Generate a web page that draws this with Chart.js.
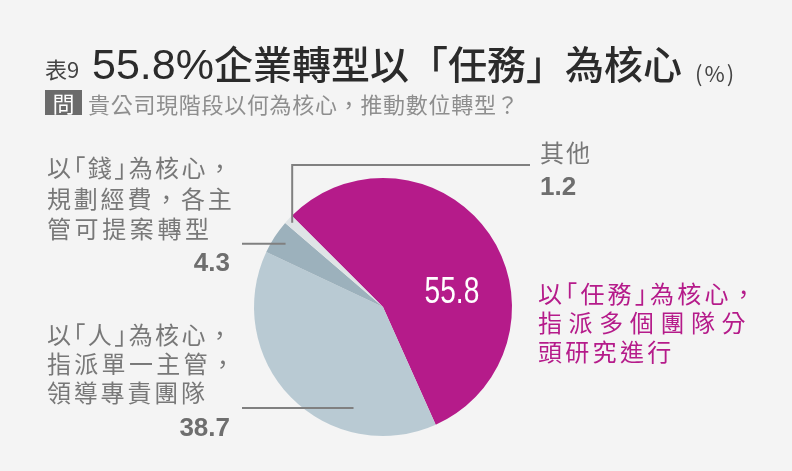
<!DOCTYPE html>
<html>
<head>
<meta charset="utf-8">
<script src="https://cdn.jsdelivr.net/npm/chart.js@4.4.0/dist/chart.umd.min.js"></script>
<style>
  html, body { margin: 0; padding: 0; }
  body { width: 792px; height: 471px; background: #f4f4f4; position: relative; overflow: hidden;
         font-family: "Noto Sans CJK TC", "Noto Sans CJK SC", sans-serif; }
  #pie { position: absolute; left: 0; top: 0; }
  .abs { position: absolute; white-space: nowrap; }
  .br { font-feature-settings: "halt"; }
  .tag { background: #6b6b6b; color: #fff; text-align: center; }
  .lbl { color: #787878; font-size: 24px; }
  .num { font-family: "Liberation Sans", Arial, sans-serif; font-weight: bold; color: #6e6e6e; font-size: 26px; line-height: 26px; }
  .dig { font-family: "Liberation Sans", Arial, sans-serif; font-size: 43px; }
</style>
</head>
<body>
<canvas id="pie" width="792" height="471"></canvas>
<div id="texts"></div>
<script>
// data
const categories = ['以「任務」為核心，指派多個團隊分頭研究進行', '以「人」為核心，指派單一主管，領導專責團隊', '以「錢」為核心，規劃經費，各主管可提案轉型', '其他'];
const categoryLines = [
  ['以「任務」為核心，', '指派多個團隊分', '頭研究進行'],
  ['以「人」為核心，', '指派單一主管，', '領導專責團隊'],
  ['以「錢」為核心，', '規劃經費，各主', '管可提案轉型'],
  ['其他']
];
const shares = [55.8, 38.7, 4.3, 1.2];
const colors = ['#b51b8a', '#b9cad3', '#9cb1bc', '#dfe4e6'];

const titleNo = '表9';
const titleLead = '55.8%';
const titleText = '企業轉型以「任務」為核心';
const titleUnit = '(%)';
const questionTag = '問';
const questionText = '貴公司現階段以何為核心，推動數位轉型？';

// layout for the labels around the pie
const labelBoxes = [
  { left: 538, top: 278, lh: 29, color: '#b51b8a', spacing: [3.2, 6.6, 3.3], value: null },
  { left: 47, top: 319, lh: 29, color: '#787878', spacing: [2.4, 3.3, 2.8], value: { right: 230, mid: 427 } },
  { left: 47, top: 152, lh: 30.5, color: '#787878', spacing: [2.4, 2.8, 3.6], value: { right: 230, mid: 262 } },
  { left: 540, top: 139, lh: 26, color: '#787878', spacing: [2], value: { left: 540, mid: 186 } }
];

const texts = document.getElementById('texts');
function addDiv(html, css, cls) {
  const d = document.createElement('div');
  d.className = 'abs ' + (cls || '');
  d.innerHTML = html;
  Object.assign(d.style, css);
  texts.appendChild(d);
  return d;
}
function brackets(s) {
  return s.replace(/([「」])/g, '<span class="br">$1</span>');
}

// title
addDiv(titleNo, { left: '45px', top: '57px', fontSize: '22px', lineHeight: '22px', color: '#444' });
addDiv('<span class="dig">' + titleLead + '</span>' + titleText,
  { left: '92px', top: '42px', fontSize: '39px', lineHeight: '41px', color: '#2b2b2b', fontWeight: 500 });
addDiv(titleUnit, { left: '695px', top: '61px', fontSize: '22px', lineHeight: '22px', color: '#444', letterSpacing: '2px' });
addDiv(questionTag, { left: '45px', top: '90px', width: '37px', height: '25px', fontSize: '22px', lineHeight: '25px' }, 'tag');
addDiv(questionText, { left: '88px', top: '91px', fontSize: '22px', lineHeight: '24px', color: '#8e8e8e', letterSpacing: '0.7px' });

// category labels + values
categoryLines.forEach((lines, i) => {
  const b = labelBoxes[i];
  lines.forEach((ln, j) => {
    addDiv(brackets(ln), { left: b.left + 'px', top: (b.top + j * b.lh) + 'px', lineHeight: b.lh + 'px',
      color: b.color, letterSpacing: b.spacing[j] + 'px' }, 'lbl');
  });
  if (b.value) {
    const css = { top: (b.value.mid - 13) + 'px' };
    if (b.value.right !== undefined) { css.right = (792 - b.value.right) + 'px'; css.textAlign = 'right'; }
    else css.left = b.value.left + 'px';
    addDiv(shares[i].toFixed(1), css, 'num');
  }
});

// leader lines: anchor inside arc (fraction along arc, fraction of radius), then path points
const leaders = [
  null,
  { frac: 0.29, r: 0.815, path: [['x', 242]] },
  { frac: 0.5, r: 0.9, path: [['x', 242]] },
  { frac: 0.5, r: 0.96, path: [['y', 165], ['x', 530]] }
];
// value inside the big slice
const innerLabel = { index: 0, frac: 0.61, r: 0.547 };

function arcPoint(arc, frac, rf) {
  const a = arc.startAngle + (arc.endAngle - arc.startAngle) * frac;
  return { x: arc.x + Math.cos(a) * arc.outerRadius * rf, y: arc.y + Math.sin(a) * arc.outerRadius * rf };
}

const pieExtras = {
  id: 'pieExtras',
  afterDatasetsDraw(chart) {
    const ctx = chart.ctx;
    const arcs = chart.getDatasetMeta(0).data;
    ctx.save();
    ctx.strokeStyle = '#808080';
    ctx.lineWidth = 2;
    leaders.forEach((ld, i) => {
      if (!ld) return;
      let p = arcPoint(arcs[i], ld.frac, ld.r);
      ctx.beginPath();
      ctx.moveTo(p.x, p.y);
      ld.path.forEach(([axis, v]) => {
        p = axis === 'x' ? { x: v, y: p.y } : { x: p.x, y: v };
        ctx.lineTo(p.x, p.y);
      });
      ctx.stroke();
    });
    const q = arcPoint(arcs[innerLabel.index], innerLabel.frac, innerLabel.r);
    ctx.translate(q.x, q.y);
    ctx.scale(0.76, 1);
    ctx.fillStyle = '#ffffff';
    ctx.font = '37px "Liberation Sans", Arial, sans-serif';
    ctx.textAlign = 'center';
    ctx.textBaseline = 'middle';
    ctx.fillText(shares[innerLabel.index].toFixed(1), 0, 1);
    ctx.restore();
  }
};

new Chart(document.getElementById('pie'), {
  type: 'pie',
  data: {
    labels: categories,
    datasets: [{
      data: shares,
      backgroundColor: colors,
      borderWidth: 0,
      radius: 129
    }]
  },
  options: {
    responsive: false,
    animation: false,
    rotation: -45,
    layout: { padding: { left: 254, right: 280, top: 178, bottom: 35 } },
    plugins: { legend: { display: false }, tooltip: { enabled: false } }
  },
  plugins: [pieExtras]
});
</script>
</body>
</html>
